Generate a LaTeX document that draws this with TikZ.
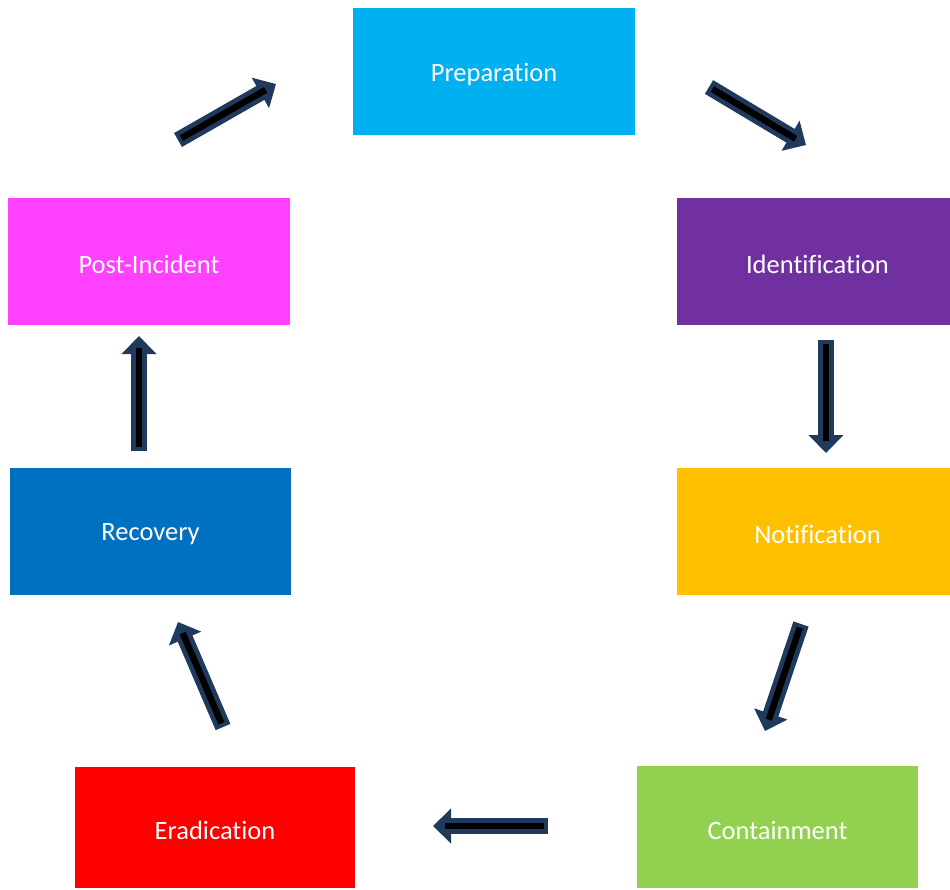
\documentclass[tikz,border=0pt]{standalone}
\usepackage{fontspec}
\setmainfont{Carlito}[Ligatures={NoCommon,TeX}]
\usetikzlibrary{arrows.meta}
\definecolor{cPrep}{HTML}{00B0F0}
\definecolor{cIdent}{HTML}{7030A0}
\definecolor{cNotif}{HTML}{FFC000}
\definecolor{cCont}{HTML}{92D050}
\definecolor{cErad}{HTML}{FF0000}
\definecolor{cRec}{HTML}{0070C0}
\definecolor{cPost}{HTML}{FF40FF}
\definecolor{arrowedge}{HTML}{1F3A5C}
\tikzset{
  stage/.style={rectangle, inner sep=0pt},
  stagelabel/.style={text=white, inner sep=0pt, yshift=-3pt,
    font=\fontsize{26.5}{32}\selectfont},
  blockouter/.style={draw=arrowedge, line width=16pt, line cap=butt,
    -{Triangle[length=18pt,width=34pt]}},
  blockinner/.style={draw=black, line width=6.5pt, line cap=butt,
    shorten <=4pt, shorten >=12pt},
}
\newcommand{\blockarrow}[2]{%
  \draw[blockouter] (#1) -- (#2);
  \draw[blockinner] (#1) -- (#2);}
\begin{document}
\begin{tikzpicture}[x=1pt,y=-1pt]
\useasboundingbox (0,0) rectangle (950,889);
% stages
\node[stage, fill=cPrep, minimum width=282pt, minimum height=127pt,
  label={[stagelabel]center:Preparation}] (prep) at (494,71.5) {};
\node[stage, fill=cIdent, minimum width=273pt, minimum height=127pt,
  label={[stagelabel, xshift=4pt]center:Identification}] (ident) at (813.5,261.5) {};
\node[stage, fill=cNotif, minimum width=273pt, minimum height=127pt,
  label={[stagelabel, xshift=4pt]center:Notification}] (notif) at (813.5,531.5) {};
\node[stage, fill=cCont, minimum width=281pt, minimum height=122pt,
  label={[stagelabel]center:Containment}] (cont) at (777.5,827) {};
\node[stage, fill=cErad, minimum width=280pt, minimum height=121pt,
  label={[stagelabel]center:Eradication}] (erad) at (215,827.5) {};
\node[stage, fill=cRec, minimum width=281pt, minimum height=127pt,
  label={[stagelabel]center:Recovery}] (rec) at (150.5,531.5) {};
\node[stage, fill=cPost, minimum width=282pt, minimum height=127pt,
  label={[stagelabel]center:Post-Incident}] (post) at (149,261.5) {};
% arrow end points
\coordinate (a1s) at (178,140); \coordinate (a1e) at (276,84);
\coordinate (a2s) at (709,87);  \coordinate (a2e) at (806,145);
\coordinate (a3s) at (826,340); \coordinate (a3e) at (826,453);
\coordinate (a4s) at (801,624); \coordinate (a4e) at (765,731);
\coordinate (a5s) at (548,826); \coordinate (a5e) at (433,826);
\coordinate (a6s) at (223,727); \coordinate (a6e) at (178,622);
\coordinate (a7s) at (139,451); \coordinate (a7e) at (139,336);
\blockarrow{a1s}{a1e}
\blockarrow{a2s}{a2e}
\blockarrow{a3s}{a3e}
\blockarrow{a4s}{a4e}
\blockarrow{a5s}{a5e}
\blockarrow{a6s}{a6e}
\blockarrow{a7s}{a7e}
\end{tikzpicture}
\end{document}
